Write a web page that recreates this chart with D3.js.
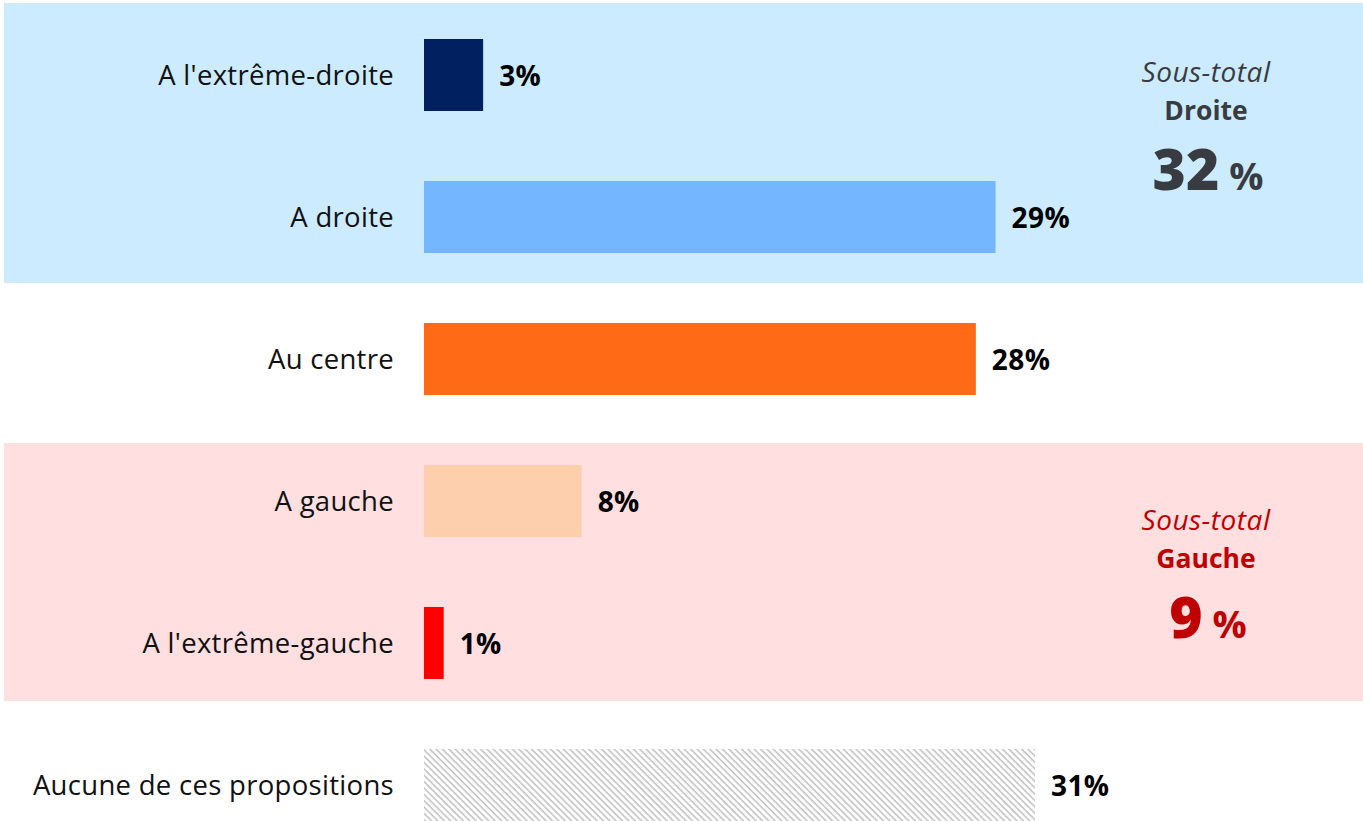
<!DOCTYPE html>
<html>
<head>
<meta charset="utf-8">
<script src="https://cdn.jsdelivr.net/npm/d3@7"></script>
<style>
  html, body { margin: 0; padding: 0; background: #fff; }
  svg { display: block; }
  text { font-family: "Open Sans", Lato, "Noto Sans", sans-serif; }
</style>
</head>
<body>
<svg id="chart" width="1363" height="821"></svg>
<script>
// Positionnement politique : réponses en %
const categories = ["A l'extrême-droite", "A droite", "Au centre", "A gauche", "A l'extrême-gauche", "Aucune de ces propositions"];
const values = [3, 29, 28, 8, 1, 31];
const barColors = ["#002060", "#74B6FF", "#FF6A17", "#FDCFAD", "#FF0000", "url(#hatch)"];

// Sous-totaux par bloc
const groups = ["Droite", "Gauche"];
const groupMembers = [["A l'extrême-droite", "A droite"], ["A gauche", "A l'extrême-gauche"]];
const groupTotals = [32, 9];
const groupFill = ["#CCEBFF", "#FFDFE0"];
const groupText = ["#383B40", "#C00000"];

const svg = d3.select("#chart");
const W = 1363, H = 821;

const x = d3.scaleLinear().domain([0, 31]).range([424, 1035]);
const y = d3.scaleBand().domain(categories).range([4, 856]).paddingInner(0.493).paddingOuter(0.2465);

// Motif hachuré
const defs = svg.append("defs");
const pat = defs.append("pattern")
  .attr("id", "hatch").attr("patternUnits", "userSpaceOnUse")
  .attr("width", 4.5).attr("height", 4.5)
  .attr("patternTransform", "rotate(45)");
pat.append("rect").attr("width", 4.5).attr("height", 4.5).attr("fill", "#fff");
pat.append("rect").attr("x", 0).attr("y", 0).attr("width", 4.5).attr("height", 1.6).attr("fill", "#C4C4C4");

// Bandes de fond des blocs
const bandPad = [[36, 30], [22, 22]];
groups.forEach((g, i) => {
  const first = y(groupMembers[i][0]);
  const last = y(groupMembers[i][groupMembers[i].length - 1]) + y.bandwidth();
  const top = first - bandPad[i][0];
  const bottom = last + bandPad[i][1];
  svg.append("rect")
    .attr("x", 4).attr("y", top)
    .attr("width", W - 4).attr("height", bottom - top)
    .attr("fill", groupFill[i]);
});

// Barres
svg.append("g").selectAll("rect")
  .data(categories)
  .join("rect")
  .attr("x", x(0))
  .attr("y", d => y(d))
  .attr("width", (d, i) => x(values[i]) - x(0))
  .attr("height", y.bandwidth())
  .attr("fill", (d, i) => barColors[i]);

// Libellés de catégories
svg.append("g").selectAll("text")
  .data(categories)
  .join("text")
  .attr("x", 394)
  .attr("y", d => y(d) + y.bandwidth() / 2 + 9.5)
  .attr("text-anchor", "end")
  .attr("font-size", 27.5)
  .attr("letter-spacing", 0.3)
  .attr("fill", "#111")
  .text(d => d);

// Valeurs
svg.append("g").selectAll("text")
  .data(categories)
  .join("text")
  .attr("x", (d, i) => x(values[i]) + 16)
  .attr("y", d => y(d) + y.bandwidth() / 2 + 10.5)
  .attr("font-size", 28)
  .attr("font-weight", 700)
  .attr("fill", "#000")
  .attr("letter-spacing", 0.4)
  .text((d, i) => values[i] + "%");

// Encadrés de sous-totaux
const cx = 1206;
const subBase = [82, 530];
groups.forEach((g, i) => {
  const base = subBase[i];
  const gEl = svg.append("g").attr("fill", groupText[i]).attr("text-anchor", "middle");
  gEl.append("text").attr("x", cx).attr("y", base)
    .attr("font-size", 28).attr("letter-spacing", 0.5).attr("font-style", "italic").text("Sous-total");
  gEl.append("text").attr("x", cx).attr("y", base + 38)
    .attr("font-size", 26.5).attr("font-weight", 700).text(g);
  const t = gEl.append("text").attr("x", cx + 2).attr("y", base + 108);
  t.append("tspan").attr("font-size", 57).attr("font-weight", 800).text(groupTotals[i]);
  t.append("tspan").attr("font-size", 38).attr("font-weight", 700).text(" %");
});
</script>
</body>
</html>
